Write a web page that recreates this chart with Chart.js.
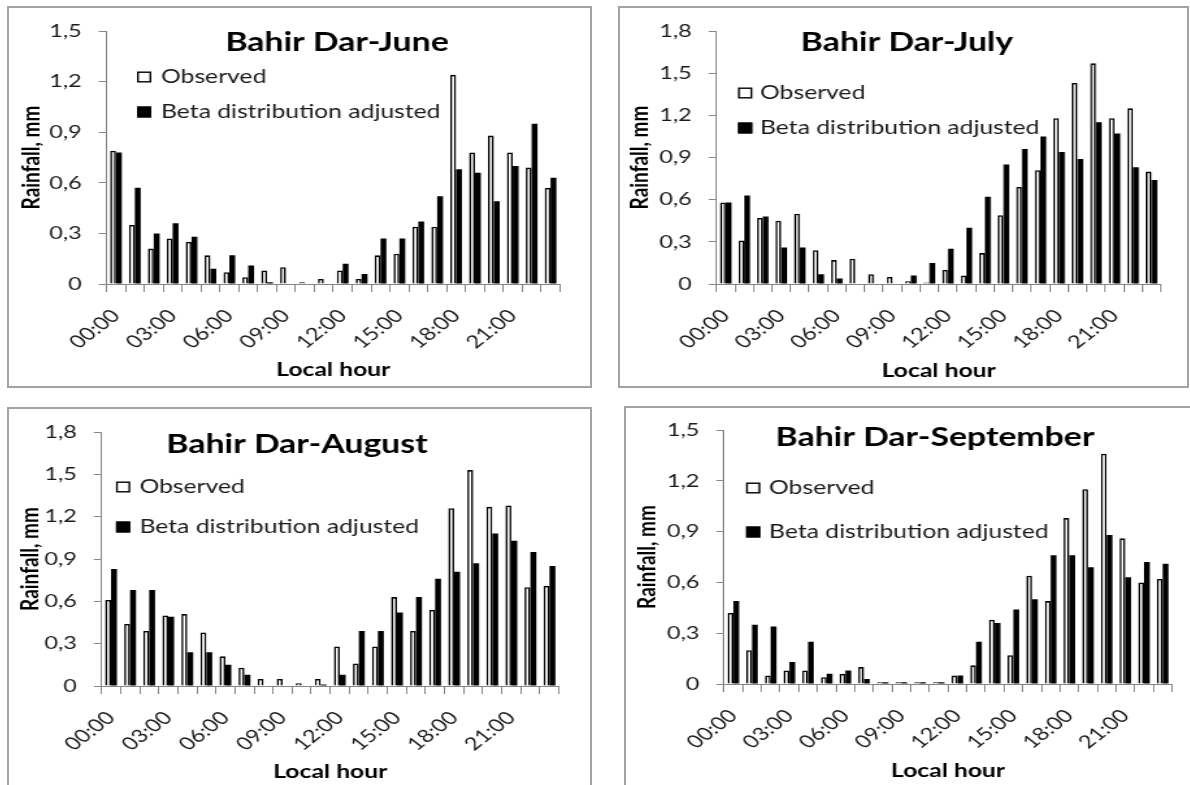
<!DOCTYPE html>
<html>
<head>
<meta charset="utf-8">
<title>Bahir Dar hourly rainfall</title>
<script src="https://cdn.jsdelivr.net/npm/chart.js@4.4.1/dist/chart.umd.min.js"></script>
<style>
    html, body { margin: 0; padding: 0; background: #fff; }
    #page { position: relative; width: 1190px; height: 785px; overflow: hidden; background: #fff; }
    .panel { position: absolute; }
    .panel .frame { position: absolute; inset: 0; border: 2px solid #a3a3a3; box-sizing: border-box; }
    .panel canvas { position: absolute; left: 0; top: 0; transform-origin: 0 0; }
</style>
</head>
<body>
<div id="page"></div>
<script>
// hour of day (x categories)
const hourLabels = [
    '00:00', '01:00', '02:00', '03:00', '04:00', '05:00', '06:00', '07:00',
    '08:00', '09:00', '10:00', '11:00', '12:00', '13:00', '14:00', '15:00',
    '16:00', '17:00', '18:00', '19:00', '20:00', '21:00', '22:00', '23:00'
];
const seriesNames = ['Observed', 'Beta distribution adjusted'];

// mean hourly rainfall, mm
const juneObserved = [0.79, 0.35, 0.21, 0.27, 0.25, 0.17, 0.07, 0.04, 0.08, 0.10, 0.01, 0.03, 0.08, 0.03, 0.17, 0.18, 0.34, 0.34, 1.24, 0.78, 0.88, 0.78, 0.69, 0.57];
const juneBeta     = [0.78, 0.57, 0.30, 0.36, 0.28, 0.09, 0.17, 0.11, 0.01, 0.00, 0.00, 0.00, 0.12, 0.06, 0.27, 0.27, 0.37, 0.52, 0.68, 0.66, 0.49, 0.70, 0.95, 0.63];

const julyObserved = [0.58, 0.31, 0.47, 0.45, 0.50, 0.24, 0.17, 0.18, 0.07, 0.05, 0.02, 0.01, 0.10, 0.06, 0.22, 0.49, 0.69, 0.81, 1.18, 1.43, 1.57, 1.18, 1.25, 0.80];
const julyBeta     = [0.58, 0.63, 0.48, 0.26, 0.26, 0.07, 0.04, 0.00, 0.00, 0.00, 0.06, 0.15, 0.25, 0.40, 0.62, 0.85, 0.96, 1.05, 0.94, 0.89, 1.15, 1.07, 0.83, 0.74];

const augustObserved = [0.61, 0.44, 0.39, 0.50, 0.51, 0.38, 0.21, 0.13, 0.05, 0.05, 0.02, 0.05, 0.28, 0.16, 0.28, 0.63, 0.39, 0.54, 1.26, 1.53, 1.27, 1.28, 0.70, 0.71];
const augustBeta     = [0.83, 0.68, 0.68, 0.49, 0.24, 0.24, 0.15, 0.08, 0.00, 0.00, 0.00, 0.01, 0.08, 0.39, 0.39, 0.52, 0.63, 0.76, 0.81, 0.87, 1.08, 1.03, 0.95, 0.85];

const septemberObserved = [0.42, 0.20, 0.05, 0.08, 0.08, 0.04, 0.06, 0.10, 0.01, 0.01, 0.01, 0.01, 0.05, 0.11, 0.38, 0.17, 0.64, 0.49, 0.98, 1.15, 1.36, 0.86, 0.60, 0.62];
const septemberBeta     = [0.49, 0.35, 0.34, 0.13, 0.25, 0.06, 0.08, 0.03, 0.01, 0.01, 0.01, 0.01, 0.05, 0.25, 0.36, 0.44, 0.50, 0.76, 0.76, 0.69, 0.88, 0.63, 0.72, 0.71];

// y axis: 0 .. max in steps of 0.3
const yStep = 0.3;
const yMaxJune = 1.5, yMaxJuly = 1.8, yMaxAugust = 1.8, yMaxSeptember = 1.5;

// the charts are drawn narrow and widened horizontally
const STRETCH = 1.3;
const FONT = 'Lato, "Liberation Sans", sans-serif';
const AXIS_GREY = '#868686';
const TEXT = '#1a1a1a';

// page positions (px) of each panel
const panels = [
    { title: 'Bahir Dar-June', observed: juneObserved, beta: juneBeta, yMax: yMaxJune,
      box: { left: 7, top: 6, right: 592, bottom: 388 },
      area: { left: 106.5, top: 31, right: 560, bottom: 284 },
      titlePos: { x: 337, y: 43 }, legend: { box: 137, text: 161, rows: [77, 112] },
      yTitleX: 31, xTitleY: 370 },
    { title: 'Bahir Dar-July', observed: julyObserved, beta: julyBeta, yMax: yMaxJuly,
      box: { left: 618, top: 6, right: 1189, bottom: 388 },
      area: { left: 716.5, top: 31, right: 1171, bottom: 284 },
      titlePos: { x: 907, y: 43 }, legend: { box: 738, text: 760, rows: [93, 128] },
      yTitleX: 640, xTitleY: 371 },
    { title: 'Bahir Dar-August', observed: augustObserved, beta: augustBeta, yMax: yMaxAugust,
      box: { left: 7, top: 407, right: 592, bottom: 800 },
      area: { left: 101.5, top: 432, right: 559, bottom: 686 },
      titlePos: { x: 297, y: 445 }, legend: { box: 116, text: 139.5, rows: [487, 527] },
      yTitleX: 30, xTitleY: 772 },
    { title: 'Bahir Dar-September', observed: septemberObserved, beta: septemberBeta, yMax: yMaxSeptember,
      box: { left: 624, top: 406, right: 1200, bottom: 800 },
      area: { left: 724, top: 430, right: 1176.5, bottom: 684 },
      titlePos: { x: 935, y: 438 }, legend: { box: 746, text: 769, rows: [488, 532] },
      yTitleX: 647, xTitleY: 771 }
];

const TITLE_SIZE = 26;
const LEGEND_SIZE = 19;
const TICK_SIZE = 18;
const AXIS_TITLE_SIZE = 19;

// title and the two-row legend sit inside the plot area
function makeDecor(p) {
    const cx = x => (x - p.box.left) / STRETCH;
    const cy = y => y - p.box.top;
    return {
        id: 'panelDecor',
        afterDraw(chart) {
            const ctx = chart.ctx;
            ctx.save();
            ctx.textBaseline = 'middle';
            ctx.fillStyle = '#000';
            ctx.textAlign = 'center';
            ctx.font = `bold ${TITLE_SIZE}px ${FONT}`;
            ctx.fillText(p.title, cx(p.titlePos.x), cy(p.titlePos.y));

            ctx.textAlign = 'left';
            ctx.font = `${LEGEND_SIZE}px ${FONT}`;
            chart.data.datasets.forEach((ds, i) => {
                const y = cy(p.legend.rows[i]);
                const x = cx(p.legend.box);
                ctx.fillStyle = ds.backgroundColor;
                ctx.fillRect(x, y - 5.5, 11, 11);
                ctx.strokeStyle = ds.borderColor;
                ctx.lineWidth = 1.4;
                ctx.strokeRect(x + 0.7, y - 4.8, 9.6, 9.6);
                ctx.fillStyle = TEXT;
                ctx.fillText(ds.label, cx(p.legend.text), y);
            });
            ctx.restore();
        }
    };
}

const page = document.getElementById('page');

panels.forEach(p => {
    const boxW = p.box.right - p.box.left;
    const boxH = p.box.bottom - p.box.top;

    const wrap = document.createElement('div');
    wrap.className = 'panel';
    wrap.style.left = p.box.left + 'px';
    wrap.style.top = p.box.top + 'px';
    wrap.style.width = boxW + 'px';
    wrap.style.height = boxH + 'px';
    const frame = document.createElement('div');
    frame.className = 'frame';
    wrap.appendChild(frame);
    const canvas = document.createElement('canvas');
    const canvasW = Math.round(boxW / STRETCH);
    canvas.width = canvasW;
    canvas.height = boxH;
    canvas.style.transform = `scaleX(${STRETCH})`;
    wrap.appendChild(canvas);
    page.appendChild(wrap);

    // plot-area edges in canvas units
    const left = (p.area.left - p.box.left) / STRETCH;
    const right = (p.area.right - p.box.left) / STRETCH;
    const top = p.area.top - p.box.top;
    const bottom = p.area.bottom - p.box.top;
    const half = AXIS_TITLE_SIZE * 0.6;
    const yTitlePad = (p.yTitleX - p.box.left) / STRETCH - half;
    const xTitlePad = boxH - (p.xTitleY - p.box.top) - half;

    new Chart(canvas.getContext('2d'), {
        type: 'bar',
        data: {
            labels: hourLabels,
            datasets: [
                {
                    label: seriesNames[0],
                    data: p.observed,
                    backgroundColor: '#ffffff',
                    borderColor: '#000000',
                    borderWidth: 1.6,
                    borderSkipped: 'start'
                },
                {
                    label: seriesNames[1],
                    data: p.beta,
                    backgroundColor: '#000000',
                    borderColor: '#000000',
                    borderWidth: 0
                }
            ]
        },
        options: {
            responsive: false,
            animation: false,
            devicePixelRatio: 1,
            layout: { padding: { top: top, right: canvasW - right, bottom: 0, left: 0 } },
            datasets: { bar: { categoryPercentage: 0.62, barPercentage: 1.0 } },
            plugins: { legend: { display: false }, tooltip: { enabled: false } },
            scales: {
                x: {
                    grid: { display: true, drawOnChartArea: false, drawTicks: true, tickLength: 8, color: AXIS_GREY, offset: true },
                    border: { display: true, color: AXIS_GREY, width: 1 },
                    ticks: {
                        autoSkip: false,
                        minRotation: 45,
                        maxRotation: 45,
                        padding: 13,
                        color: TEXT,
                        font: { family: FONT, size: TICK_SIZE },
                        callback: (v, i) => (i % 3 === 0 ? hourLabels[i] : '')
                    },
                    title: {
                        display: true,
                        text: 'Local hour',
                        color: '#000',
                        font: { family: FONT, size: AXIS_TITLE_SIZE, weight: 'bold' },
                        padding: { top: 0, bottom: xTitlePad }
                    },
                    afterFit: s => { s.height = boxH - bottom; }
                },
                y: {
                    min: 0,
                    max: p.yMax,
                    grid: { display: true, drawOnChartArea: false, drawTicks: true, tickLength: 6, color: AXIS_GREY },
                    border: { display: true, color: AXIS_GREY, width: 1 },
                    ticks: {
                        stepSize: yStep,
                        padding: 13,
                        color: TEXT,
                        font: { family: FONT, size: TICK_SIZE },
                        callback: v => (v === 0 ? '0' : v.toFixed(1).replace('.', ','))
                    },
                    title: {
                        display: true,
                        text: 'Rainfall, mm',
                        color: '#000',
                        font: { family: FONT, size: AXIS_TITLE_SIZE, weight: 'bold' },
                        padding: { top: yTitlePad, bottom: 0 }
                    },
                    afterFit: s => { s.width = left; }
                }
            }
        },
        plugins: [makeDecor(p)]
    });
});
</script>
</body>
</html>
